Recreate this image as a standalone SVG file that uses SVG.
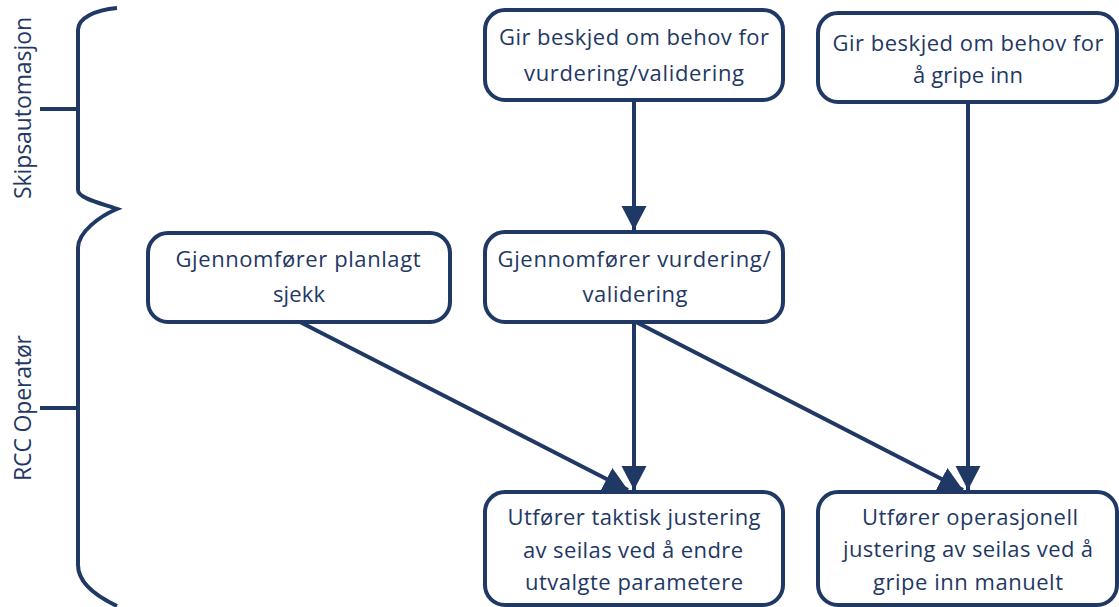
<svg xmlns="http://www.w3.org/2000/svg" width="1119" height="607" viewBox="0 0 1119 607">
<style>
.box{fill:#fff;stroke:#1F3864;stroke-width:4}
.t{font-family:"Open Sans","Liberation Sans",sans-serif;font-size:22px;fill:#1F3864;text-anchor:middle}
.lab{font-size:23px}
.ln{fill:none;stroke:#1F3864;stroke-width:4}
.br{fill:none;stroke:#1F3864;stroke-width:4;stroke-linecap:butt}
</style>
<defs>
<marker id="ah" markerUnits="userSpaceOnUse" markerWidth="26" markerHeight="26" refX="24" refY="12.5" orient="auto" viewBox="0 0 26 26">
<path d="M0,0 L24,12.5 L0,25 z" fill="#1F3864"/>
</marker>
</defs>
<rect width="1119" height="607" fill="#fff"/>
<g id="lanes">
<path class="br" d="M117,8 C95,10 78,18 78,30 L78,190 C78,198 100,203 117,209 C100,216 78,232 78,248 L78,565 C78,585 100,598 117,606"/>
<path class="br" d="M40,109 H78 M40,408 H78"/>
<text class="t lab" transform="translate(31,108) rotate(-90)" textLength="182" lengthAdjust="spacing">Skipsautomasjon</text>
<text class="t lab" transform="translate(31,408) rotate(-90)" textLength="146" lengthAdjust="spacing">RCC Operatør</text>
</g>
<g id="connectors">
<path class="ln" d="M634,100 V230" marker-end="url(#ah)"/>
<path class="ln" d="M968,102 V490" marker-end="url(#ah)"/>
<path class="ln" d="M634,322 V490" marker-end="url(#ah)"/>
<path class="ln" d="M300,322 L628,490" marker-end="url(#ah)"/>
<path class="ln" d="M636,322 L963,490" marker-end="url(#ah)"/>
</g>
<g id="n1">
<rect class="box" x="485" y="10" width="298" height="90" rx="20"/>
<text class="t" x="634" y="45" textLength="270" lengthAdjust="spacing">Gir beskjed om behov for</text>
<text class="t" x="634" y="81" textLength="220" lengthAdjust="spacing">vurdering/validering</text>
</g>
<g id="n2">
<rect class="box" x="818" y="13" width="299" height="89" rx="20"/>
<text class="t" x="968" y="51" textLength="271" lengthAdjust="spacing">Gir beskjed om behov for</text>
<text class="t" x="968" y="83" textLength="110" lengthAdjust="spacing">å gripe inn</text>
</g>
<g id="n3">
<rect class="box" x="148" y="233" width="302" height="89" rx="20"/>
<text class="t" x="298" y="267" textLength="245" lengthAdjust="spacing">Gjennomfører planlagt</text>
<text class="t" x="299" y="302" textLength="52" lengthAdjust="spacing">sjekk</text>
</g>
<g id="n4">
<rect class="box" x="485" y="232" width="298" height="90" rx="20"/>
<text class="t" x="634" y="267" textLength="273" lengthAdjust="spacing">Gjennomfører vurdering/</text>
<text class="t" x="635" y="302" textLength="105" lengthAdjust="spacing">validering</text>
</g>
<g id="n5">
<rect class="box" x="485" y="492" width="298" height="113" rx="20"/>
<text class="t" x="634" y="525" textLength="253" lengthAdjust="spacing">Utfører taktisk justering</text>
<text class="t" x="633" y="558" textLength="220" lengthAdjust="spacing">av seilas ved å endre</text>
<text class="t" x="634" y="590" textLength="218" lengthAdjust="spacing">utvalgte parametere</text>
</g>
<g id="n6">
<rect class="box" x="818" y="492" width="299" height="113" rx="20"/>
<text class="t" x="970" y="525" textLength="216" lengthAdjust="spacing">Utfører operasjonell</text>
<text class="t" x="968" y="557" textLength="250" lengthAdjust="spacing">justering av seilas ved å</text>
<text class="t" x="968" y="590" textLength="190" lengthAdjust="spacing">gripe inn manuelt</text>
</g>
</svg>
